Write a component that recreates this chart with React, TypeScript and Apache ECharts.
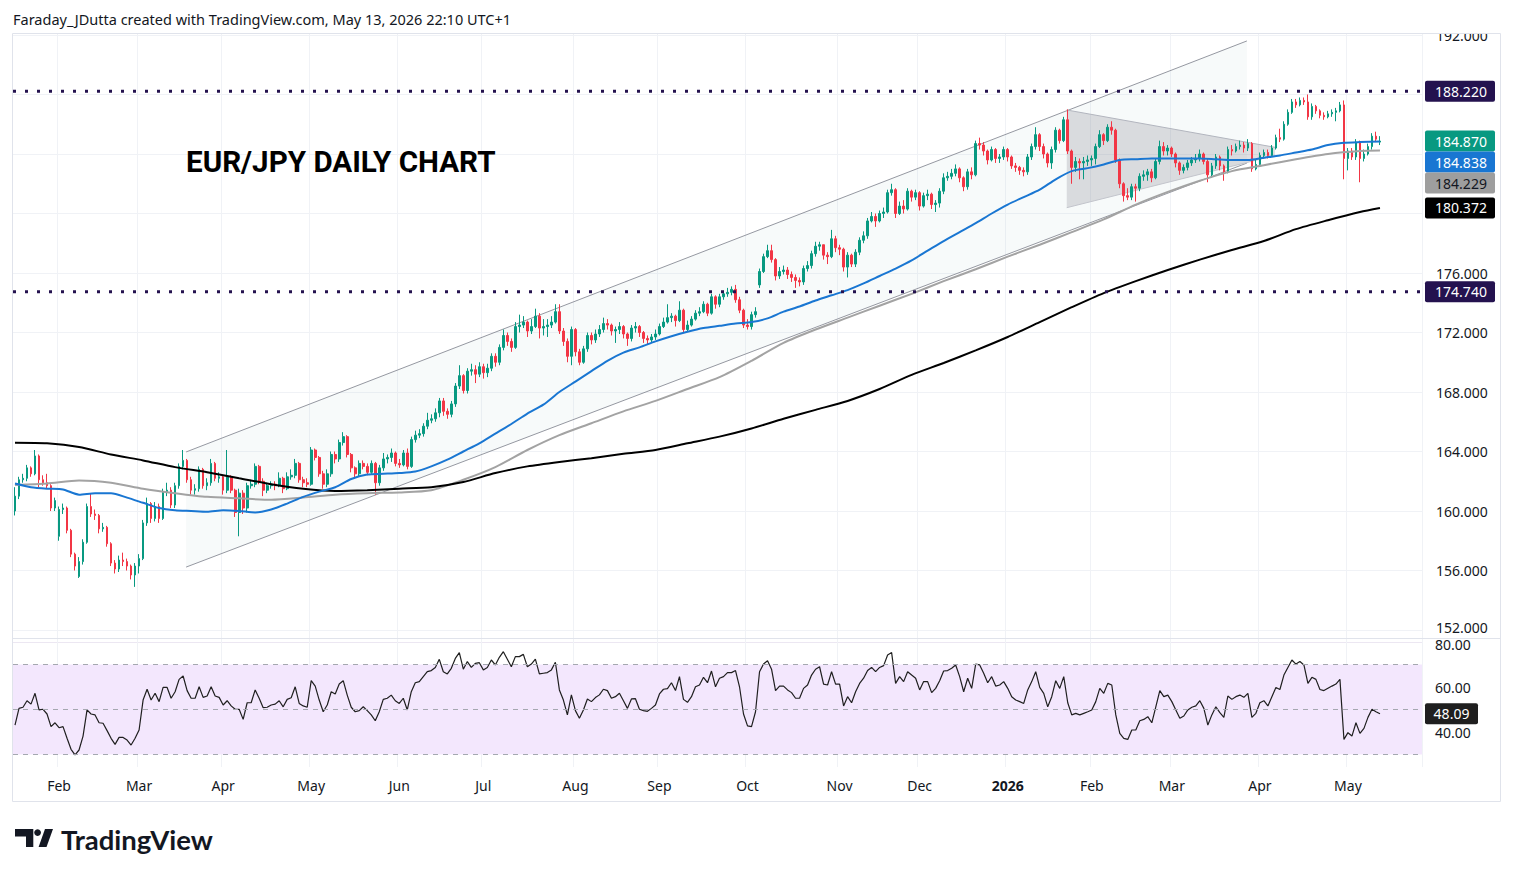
import React, { useEffect, useRef } from "react";
import * as echarts from "echarts";

// ---------- data ----------
const START_DATE = "2025-01-17";
const HOLIDAYS = ["2025-12-25", "2026-01-01"];
const RIGHT_PAD = 10;
const MONTHS = ["Jan", "Feb", "Mar", "Apr", "May", "Jun", "Jul", "Aug", "Sep", "Oct", "Nov", "Dec"];

// daily candles: [open, close, low, high]
const ohlc: number[][] = [
  [160.0,161.0,159.7,161.6],[161.0,162.1,160.8,162.3],[162.1,162.2,161.9,162.5],[162.2,162.9,162.0,163.1],[162.9,162.5,162.3,163.0],
  [162.5,163.7,162.4,164.1],[163.7,162.1,161.6,163.8],[162.1,161.9,161.7,162.4],[161.9,161.7,161.5,162.5],[161.7,160.2,160.0,161.8],
  [160.2,160.7,160.0,160.9],[158.3,160.1,158.0,160.3],[160.1,160.2,159.8,160.5],[160.2,158.7,158.5,160.3],[158.7,157.1,156.9,158.8],
  [157.1,156.3,156.0,157.2],[155.6,156.6,155.5,156.9],[156.6,157.9,156.4,158.1],[157.9,160.3,157.8,160.5],[160.3,159.8,159.6,161.2],
  [159.8,159.7,159.4,160.1],[159.7,158.8,158.5,159.8],[158.8,158.9,158.6,159.2],[158.9,157.8,157.6,159.0],[157.8,156.5,156.3,157.9],
  [156.5,156.1,155.8,156.7],[156.1,156.7,155.9,157.0],[156.7,156.6,156.3,157.2],[156.6,156.3,156.0,156.8],[156.3,155.7,155.4,156.4],
  [155.7,156.3,154.9,156.5],[156.3,156.8,155.8,157.1],[156.8,159.2,156.7,159.4],[159.2,160.5,159.0,160.9],[160.5,159.5,159.2,160.6],
  [159.5,160.3,159.3,160.6],[160.3,159.5,159.2,160.5],[159.5,161.3,159.4,161.5],[161.3,161.4,161.0,161.9],[161.4,160.4,160.2,161.6],
  [160.4,161.7,160.2,161.9],[161.7,163.0,161.5,163.2],[163.0,163.4,162.8,164.1],[163.4,162.1,161.9,163.5],[162.1,161.4,161.1,162.3],
  [161.4,161.5,161.1,161.8],[161.5,162.8,161.3,163.0],[162.8,161.7,161.5,162.9],[161.7,161.9,161.4,162.2],[161.9,163.2,161.7,163.5],
  [163.2,162.2,162.0,163.3],[162.2,162.3,161.9,162.6],[162.3,161.4,161.1,162.4],[161.4,162.3,161.2,164.1],[162.3,161.4,161.2,162.4],
  [161.4,159.9,159.6,161.5],[159.9,161.2,158.3,161.5],[161.2,160.2,159.8,161.4],[160.2,161.7,159.9,161.9],[161.7,161.8,161.5,162.1],
  [161.8,163.0,161.6,163.2],[163.0,162.0,161.8,163.1],[162.0,161.4,161.0,162.2],[161.4,161.7,161.2,161.9],[161.7,161.8,161.5,162.0],
  [161.8,161.7,161.4,162.0],[161.7,162.2,161.6,162.6],[162.2,161.5,161.2,162.3],[161.5,162.3,161.4,162.6],[162.3,162.4,162.1,162.8],
  [162.4,163.2,162.2,163.5],[163.2,162.1,161.9,163.3],[162.1,161.9,161.6,162.3],[161.9,161.8,161.6,162.2],[161.8,164.1,161.7,164.3],
  [164.1,163.6,163.4,164.2],[163.6,162.5,162.3,163.7],[162.5,161.8,161.5,162.7],[161.8,162.5,161.6,162.8],[162.5,163.8,162.3,164.0],
  [163.8,163.5,163.2,164.0],[163.5,164.6,163.3,164.8],[164.6,165.0,164.4,165.3],[165.0,163.8,163.6,165.1],[163.8,162.9,162.6,163.9],
  [162.9,162.5,162.2,163.0],[162.5,163.2,162.3,163.4],[163.2,163.0,162.8,163.4],[163.0,162.6,162.4,163.2],[162.6,163.2,162.5,163.4],
  [163.2,161.9,161.1,163.3],[161.9,162.9,161.7,163.1],[162.9,163.5,162.7,163.9],[163.5,163.6,163.2,163.8],[163.6,163.9,163.3,164.2],
  [163.9,163.2,163.0,164.0],[163.2,163.1,162.9,163.5],[163.1,163.9,163.0,164.1],[163.9,163.0,162.8,164.2],[163.0,164.8,162.9,165.0],
  [164.8,165.1,164.6,165.4],[165.1,165.2,164.9,165.5],[165.2,165.7,165.0,165.9],[165.7,166.1,165.5,166.6],[166.1,166.2,165.9,166.5],
  [166.2,166.6,166.0,166.9],[166.6,167.4,166.3,167.6],[167.4,166.7,166.4,167.6],[166.7,166.5,166.2,166.9],[166.5,167.2,166.3,167.4],
  [167.2,168.4,167.0,168.6],[168.4,169.1,168.2,169.8],[169.1,168.1,167.9,169.2],[168.1,169.4,167.9,169.6],[169.4,169.5,169.1,169.9],
  [169.5,169.2,168.6,169.8],[169.2,169.7,169.0,170.0],[169.7,169.3,168.9,169.9],[169.3,169.6,169.0,169.9],[169.6,170.4,169.4,170.6],
  [170.4,170.0,169.7,170.6],[170.0,171.0,169.8,171.2],[171.0,171.8,170.8,172.2],[171.8,171.4,171.1,172.0],[171.4,171.0,170.7,171.6],
  [171.0,172.4,170.9,172.7],[172.4,172.5,172.0,173.2],[172.5,172.7,172.3,173.1],[172.7,172.1,171.7,172.8],[172.1,172.4,171.9,172.9],
  [172.4,173.1,172.3,173.6],[173.1,172.3,171.6,173.3],[172.3,172.4,171.8,172.9],[172.4,172.5,171.7,172.9],[172.5,172.7,172.3,173.1],
  [172.7,173.4,172.6,173.9],[173.4,172.1,171.9,173.9],[172.1,171.4,171.1,172.3],[171.4,170.4,170.0,171.6],[170.4,172.2,169.8,172.4],
  [172.2,170.7,170.4,172.3],[170.7,170.0,169.8,170.9],[170.0,170.9,169.9,171.1],[170.9,171.8,170.7,172.0],[171.8,171.5,171.2,172.0],
  [171.5,171.9,171.3,172.2],[171.9,172.2,171.7,172.5],[172.2,172.6,172.0,173.0],[172.6,172.5,172.2,172.9],[172.5,172.1,171.8,172.6],
  [172.1,172.2,171.3,172.4],[172.2,172.4,171.9,172.7],[172.4,171.9,171.6,172.5],[171.9,171.6,171.1,172.0],[171.6,172.3,171.4,172.5],
  [172.3,172.4,172.0,172.7],[172.4,172.0,171.7,172.5],[172.0,171.6,171.3,172.1],[171.6,171.5,171.2,171.8],[171.5,171.7,171.3,171.9],
  [171.7,171.9,171.5,172.2],[171.9,172.4,171.8,172.6],[172.4,172.7,172.3,173.0],[172.7,173.0,172.6,173.9],[173.0,173.1,172.7,173.3],
  [173.1,172.8,172.4,173.2],[172.8,173.5,172.7,174.1],[173.5,172.2,172.0,173.6],[172.2,172.5,172.1,172.8],[172.5,172.9,172.4,173.1],
  [172.9,173.3,172.8,173.5],[173.3,173.4,173.1,173.7],[173.4,173.9,173.3,174.1],[173.9,173.3,173.1,174.0],[173.3,174.4,173.2,174.6],
  [174.4,173.9,173.6,174.5],[173.9,174.4,173.7,174.6],[174.4,174.6,174.2,174.8],[174.6,174.7,174.4,175.0],[174.7,174.9,174.5,175.1],
  [174.9,174.2,174.0,175.2],[174.2,173.5,173.3,174.4],[173.5,172.5,172.3,173.6],[172.5,172.4,172.2,172.9],[172.4,173.2,172.2,173.4],
  [173.2,173.4,173.0,173.7],[175.2,176.1,175.0,176.3],[176.1,177.1,176.0,177.3],[177.1,177.5,177.0,177.9],[177.5,176.9,176.7,177.9],
  [176.9,175.8,175.5,177.0],[175.8,176.1,175.6,176.4],[176.1,176.2,175.9,176.5],[176.2,175.9,175.6,176.4],[175.9,175.7,175.4,176.1],
  [175.7,175.5,175.0,175.9],[175.5,175.4,175.1,175.7],[175.4,176.3,175.2,176.5],[176.3,176.5,176.1,176.8],[176.5,177.3,176.3,177.5],
  [177.3,177.8,177.1,178.1],[177.8,177.9,177.5,178.1],[177.9,177.2,176.9,177.9],[177.2,177.1,176.6,177.4],[177.1,178.3,177.0,178.9],
  [178.3,177.7,177.4,178.5],[177.7,177.6,177.2,177.9],[177.6,176.4,176.1,177.7],[176.4,177.2,175.7,177.4],[177.2,176.6,176.4,177.3],
  [176.6,177.4,176.4,177.6],[177.4,178.2,177.2,178.4],[178.2,178.5,178.0,178.8],[178.5,179.5,178.3,179.7],[179.5,179.8,179.4,180.1],
  [179.8,179.5,179.1,180.0],[179.5,180.0,179.4,180.2],[180.0,180.1,179.7,180.4],[180.1,181.4,180.0,181.6],[181.4,181.6,181.2,182.0],
  [181.6,180.0,179.7,181.7],[180.0,180.5,179.9,180.8],[180.5,180.3,180.0,180.9],[180.3,181.5,180.2,181.7],[181.5,181.1,180.8,181.6],
  [181.1,181.4,180.9,181.6],[181.4,180.5,180.2,181.5],[180.5,181.2,180.4,181.4],[181.2,181.3,180.9,181.6],[181.3,180.6,180.3,181.4],
  [180.6,180.7,180.1,180.9],[180.7,181.5,180.4,181.7],[181.5,182.4,181.3,182.7],[182.4,182.5,182.2,182.8],[182.5,182.7,182.3,183.0],
  [182.7,183.0,182.5,183.3],[183.0,182.4,182.1,183.1],[182.4,181.8,181.5,182.5],[181.8,182.8,181.6,183.0],[182.8,182.6,182.3,183.1],
  [182.6,184.7,182.5,184.9],[184.7,184.6,184.3,185.1],[184.6,184.2,183.9,184.8],[184.2,183.6,183.3,184.3],[183.6,184.3,183.5,184.5],
  [184.3,183.7,183.4,184.4],[183.7,183.8,183.4,184.0],[183.8,184.3,183.6,184.5],[184.3,183.8,183.5,184.4],[183.8,183.2,183.0,183.9],
  [183.2,183.1,182.8,183.4],[183.1,182.9,182.6,183.2],[182.9,182.8,182.5,183.1],[182.8,183.8,182.6,184.0],[183.8,184.5,183.6,184.7],
  [184.5,185.3,184.3,185.8],[185.3,184.5,184.2,185.4],[184.5,184.0,183.7,184.7],[184.0,183.4,183.1,184.1],[183.4,184.3,183.0,184.5],
  [184.3,185.6,184.1,185.8],[185.6,184.9,184.7,185.7],[184.9,186.3,184.8,186.5],[186.3,184.2,184.0,187.0],[184.2,183.1,182.0,184.3],
  [183.1,183.5,182.8,183.8],[183.5,183.4,182.3,183.7],[183.4,183.5,182.3,183.8],[183.5,183.6,183.2,183.9],[183.6,183.7,183.2,183.9],
  [183.7,184.5,183.3,184.7],[184.5,185.3,184.4,185.6],[185.3,184.9,184.6,185.4],[184.9,185.8,184.8,186.0],[185.8,185.6,185.3,186.2],
  [185.6,183.6,183.4,185.7],[183.6,182.0,181.7,183.7],[182.0,181.2,180.8,182.1],[181.2,181.1,180.9,181.7],[181.1,181.8,180.9,182.0],
  [181.8,181.7,180.8,182.0],[181.7,182.5,181.5,182.7],[182.5,182.6,182.2,182.9],[182.6,182.8,182.2,183.0],[182.8,182.4,182.1,183.0],
  [182.4,183.5,182.3,183.7],[183.5,184.5,183.3,184.9],[184.5,184.2,183.9,184.8],[184.2,184.4,183.9,184.6],[184.4,184.0,183.8,184.5],
  [184.0,183.4,183.1,184.1],[183.4,182.9,182.6,183.5],[182.9,183.1,182.7,183.3],[183.1,183.4,182.9,183.6],[183.4,183.6,183.2,183.8],
  [183.6,183.7,183.4,184.0],[183.7,184.0,183.5,184.3],[184.0,183.5,183.3,184.1],[183.5,182.6,182.1,183.7],[182.6,183.2,182.4,183.4],
  [183.2,183.8,183.0,184.0],[183.8,183.2,182.9,183.9],[183.2,182.8,182.2,183.3],[182.8,184.3,182.7,184.5],[184.3,184.2,183.9,184.6],
  [184.2,184.5,184.1,184.7],[184.5,184.6,184.3,184.9],[184.6,184.4,184.1,184.8],[184.4,184.7,184.2,185.0],[184.7,183.0,182.8,184.8],
  [183.0,183.3,182.9,183.6],[183.3,183.9,183.2,184.1],[183.9,184.1,183.7,184.3],[184.1,183.9,183.7,184.3],[183.9,184.4,183.8,184.6],
  [184.4,185.1,184.3,185.3],[185.1,185.0,184.8,185.7],[185.0,186.0,184.9,186.2],[186.0,186.8,185.9,187.0],[186.8,187.5,186.7,187.7],
  [187.5,187.3,187.1,187.7],[187.3,187.6,187.2,187.8],[187.6,187.5,187.3,187.8],[187.5,186.5,186.3,188.0],[186.5,187.2,186.3,187.4],
  [187.2,186.9,186.7,187.3],[186.9,186.6,186.4,187.0],[186.6,186.5,186.3,186.8],[186.5,186.7,186.4,186.9],[186.7,186.8,186.5,187.0],
  [186.8,186.9,186.2,187.1],[186.9,187.3,186.8,187.5],[187.3,183.7,182.3,187.6],[183.7,184.2,182.9,184.4],[184.2,183.8,183.6,184.4],
  [183.8,184.8,183.6,185.0],[184.8,183.7,182.1,184.9],[183.7,184.0,183.5,184.3],[184.0,184.5,183.9,184.7],[184.5,185.2,184.3,185.4],
  [185.2,185.0,184.8,185.5],[184.8,184.87,184.6,185.2],
];

// RSI(14), one value per candle
const rsi14: number[] = [
  43.1,50.5,51,53.9,52.4,57.2,49.8,50.1,48,42.4,
  44.1,41.9,42.4,37.2,32.3,29.8,32,38.2,49.8,48,
  47.6,44.1,43.9,40.6,37.2,34.5,37.6,37.6,36.4,34.2,
  37.2,40.9,54.2,59,54.2,57.2,53.5,59.8,59.8,55,
  57.9,63.4,64.9,58.4,55,55,60.1,55.4,56,60.1,
  56,55.4,52,53.9,51.6,50.1,50.1,45.6,53,53,
  58.7,55,50.8,51,52,52.4,53.9,51.2,54.5,55.2,
  60.1,52.7,51.6,51,62.8,60.4,54.2,49,52,57.9,
  56.9,61.3,62.8,56.4,51,49,49.5,51.2,49.5,47.6,
  45,49,54.5,55,56.4,53.9,52.7,55,49.8,57.9,
  61.9,62.4,64.6,66.8,67.3,68.7,72.3,66.8,65.8,68.3,
  72.7,75.3,67.9,71.3,68.7,70.5,70.8,67.6,68.7,72,
  69.8,73.2,75.7,72.3,69,73.5,73.5,74.5,69,70.2,
  72.4,65.8,66.1,66.4,67.6,71,58.7,54.2,47.6,56.5,
  49.5,46.1,49.8,54.7,53.5,55.3,56.5,59,58.4,55,
  55.7,57.2,53.9,50.5,54.7,54.8,50.1,49.5,49.2,50.5,
  52,56.9,59,59.3,61.9,58.4,64.6,54.5,53.2,55.7,
  60.1,60.9,64.3,61.9,67.1,60.1,63.9,64.6,66.4,66.4,
  67.3,60.1,48,42.7,42.4,49,66.8,70.2,71.7,67.9,
  58.4,60.4,60.4,58.7,57.5,55,55,59.4,60.9,65.3,
  67.9,69,61.3,60.9,66.8,61.3,61.3,51.6,55.7,53,
  57.9,61.6,63.9,67.3,68.7,66.8,68.7,69.5,74.2,75.3,
  61.6,64.6,62.4,66.8,65.3,63.9,58.7,62.4,62.4,57.5,
  59.4,62.8,67.1,67.3,68.3,69.8,64.6,57.9,63.9,59.4,
  70.2,69.8,66.1,61.9,64.6,60.4,60.9,62.4,59.4,55.7,
  54.2,53.5,52.7,58.7,62.4,66.8,59.8,57.2,51.2,55.7,
  62.8,59.4,64.6,53,47.6,48.3,47.6,48.3,49,49.8,
  53.5,59.4,57.2,61.6,60.9,47.6,39.4,37.2,36.7,40.9,
  40.9,45,45.6,46.8,44.1,51.2,58.4,55.7,56.4,53.5,
  49.8,46.1,47.1,49.8,51,51.6,53.9,50.5,43.1,47.6,
  51.2,48.6,46.5,56,54.5,55.7,56.4,55.4,57.2,46.5,
  48.3,53,53.9,51.6,55.7,59.8,58.9,65.3,68.7,72,
  70.2,71.3,69.8,61.6,64.3,63.4,58.9,58.4,59.4,60.4,
  61.3,63.4,36.7,39.7,38.2,44.1,39.4,41.6,46.5,50.1,
  49,48.09,
];

// moving averages (every 4th / 8th candle) + final value
const EMA50_STEP = 4;
const ema50: number[] = [
  161.85,161.6,161.5,161.45,161.1,161.2,161.2,160.9,160.55,160.2,
  160.05,160.0,159.95,160.05,160.0,159.9,160.1,160.5,160.95,161.3,
  161.6,162.15,162.45,162.5,162.55,162.65,163.0,163.45,164.0,164.55,
  165.2,165.85,166.55,167.15,168.0,168.7,169.4,170.1,170.65,171.0,
  171.4,171.75,172.05,172.3,172.45,172.6,172.7,172.95,173.4,173.75,
  174.15,174.5,174.85,175.3,175.8,176.3,176.85,177.5,178.15,178.75,
  179.35,180.0,180.6,181.1,181.6,182.3,182.85,183.05,183.3,183.6,
  183.65,183.7,183.7,183.7,183.7,183.65,183.6,183.6,183.75,183.9,
  184.1,184.3,184.6,184.75,184.8,
];
const ema50Last = 184.838;
const MA_STEP = 8;
const ema100: number[] = [
  161.75,161.85,162.05,161.9,161.5,161.2,160.95,160.85,160.75,160.9,
  161.1,161.2,161.25,161.4,162.1,162.95,164.1,165.1,165.9,166.7,
  167.4,168.2,169.0,170.1,171.3,172.2,173.0,173.8,174.6,175.45,
  176.25,177.1,177.9,178.75,179.6,180.6,181.45,182.2,182.85,183.25,
  183.65,184.0,184.2,
];
const ema100Last = 184.229;
const sma200: number[] = [
  164.59,164.55,164.3,163.8,163.4,162.95,162.6,162.2,161.8,161.5,
  161.35,161.4,161.5,161.6,161.95,162.55,163.0,163.3,163.55,163.85,
  164.1,164.55,165.0,165.55,166.2,166.8,167.4,168.2,169.15,169.95,
  170.8,171.7,172.7,173.7,174.65,175.45,176.2,176.9,177.55,178.15,
  178.95,179.55,180.1,
];
const sma200Last = 180.372;

// drawings: [candle index, price]
const levels = [188.22, 174.74];
const channelUpper = [[42.75, 163.97], [307.75, 191.6]];
const channelLower = [[42.75, 156.23], [307.75, 183.39]];
const triangleUpper = [[262.75, 186.96], [314.75, 184.45]];
const triangleLower = [[262.75, 180.39], [314.75, 183.9]];

const priceTicks = [152, 156, 160, 164, 168, 172, 176, 180, 184, 188, 192];
const priceLabelTicks = [152, 156, 160, 164, 168, 172, 176, 192];
const rsiTicks = [40, 60, 80];
const rsiGuides = [30, 50, 70];

// ---------- styles ----------
const FONT = "'Noto Sans', 'DejaVu Sans', sans-serif";
const TEXT = "#131722";
const UP = "#089981";
const DOWN = "#f23645";
const BLUE = "#1976d2";
const GREY = "#a3a3a3";
const LEVEL = "#24124f";
const GRIDC = "#f0f2f6";
const BORDER = "#e0e3eb";

// pane geometry
const PLOT_L = 13;
const PLOT_W = 1409;
const PRICE_TOP = 34;
const PRICE_H = 604;
const RSI_TOP = 638;
const RSI_H = 129;
// price scale: 192 at y=35, 14.875 px per unit
const PX_PER_UNIT = 14.875;
const P_MAX = 192 + (35 - PRICE_TOP) / PX_PER_UNIT;
const P_MIN = 192 - (PRICE_TOP + PRICE_H - 35) / PX_PER_UNIT;
// rsi scale: 80 at y=642, 2.25 px per unit
const R_MAX = 80 + (642 - RSI_TOP) / 2.25;
const R_MIN = 80 - (RSI_TOP + RSI_H - 642) / 2.25;

function buildDates(n: number): string[] {
  const out: string[] = [];
  const d = new Date(START_DATE + "T00:00:00Z");
  while (out.length < n) {
    const wd = d.getUTCDay();
    const s = d.toISOString().slice(0, 10);
    if (wd !== 0 && wd !== 6 && HOLIDAYS.indexOf(s) < 0) out.push(s);
    d.setUTCDate(d.getUTCDate() + 1);
  }
  return out;
}

function buildOption() {
  const N = ohlc.length + RIGHT_PAD;
  const dates = buildDates(N);
  const isStart = dates.map((d, i) => i > 0 && d.slice(0, 7) !== dates[i - 1].slice(0, 7));
  const lastIdx = ohlc.length - 1;
  const sampled = (arr: number[], step: number, last: number) =>
    arr.map((v, k) => [k * step, v]).concat([[lastIdx, last]]);

  const monthFmt = (val: string) => {
    const m = parseInt(val.slice(5, 7), 10) - 1;
    if (m === 0) return "{b|" + val.slice(0, 4) + "}";
    return MONTHS[m];
  };

  const catAxisBase = {
    type: "category",
    data: dates,
    boundaryGap: true,
    axisLine: { show: false },
    axisTick: { show: false },
    splitLine: { show: true, interval: (i: number) => isStart[i], lineStyle: { color: GRIDC, width: 1 } },
  };

  const lineSeries = (data: number[][], color: string, width: number) => ({
    type: "line",
    xAxisIndex: 1,
    yAxisIndex: 0,
    data,
    showSymbol: false,
    symbol: "none",
    smooth: 0.25,
    silent: true,
    lineStyle: { color, width },
    z: 4,
  });

  const twoPointShape = (pts: number[][]) => ({
    type: "custom",
    xAxisIndex: 1,
    yAxisIndex: 0,
    silent: true,
    data: [[pts[0][0], pts[0][1]]],
  });

  return {
    animation: false,
    backgroundColor: "#ffffff",
    grid: [
      { left: PLOT_L, top: PRICE_TOP, width: PLOT_W, height: PRICE_H },
      { left: PLOT_L, top: RSI_TOP, width: PLOT_W, height: RSI_H },
    ],
    xAxis: [
      { ...catAxisBase, gridIndex: 0, axisLabel: { show: false } },
      { type: "value", gridIndex: 0, min: -0.5, max: N - 0.5, show: false },
      {
        ...catAxisBase,
        gridIndex: 1,
        axisLabel: {
          show: true,
          interval: (i: number) => isStart[i],
          formatter: monthFmt,
          color: TEXT,
          fontFamily: FONT,
          fontSize: 14,
          margin: 11,
          rich: { b: { fontWeight: "bold", color: TEXT, fontFamily: FONT, fontSize: 14 } },
        },
      },
    ],
    yAxis: [
      {
        type: "value",
        gridIndex: 0,
        position: "right",
        min: P_MIN,
        max: P_MAX,
        axisLine: { show: false },
        axisTick: { show: false, customValues: priceTicks },
        splitLine: { show: true, lineStyle: { color: GRIDC, width: 1 } },
        axisLabel: {
          customValues: priceLabelTicks,
          formatter: (v: number) => (v === priceLabelTicks[0] ? "{lo|" + v.toFixed(3) + "}" : v.toFixed(3)),
          color: TEXT,
          fontFamily: FONT,
          fontSize: 14,
          align: "left",
          margin: 14,
          rich: { lo: { color: TEXT, fontFamily: FONT, fontSize: 14, padding: [0, 0, 5, 0] } },
        },
      },
      {
        type: "value",
        gridIndex: 1,
        position: "right",
        min: R_MIN,
        max: R_MAX,
        axisLine: { show: false },
        axisTick: { show: false, customValues: rsiTicks },
        splitLine: { show: true, lineStyle: { color: "#ece7f2", width: 1 } },
        axisLabel: {
          customValues: rsiTicks,
          formatter: (v: number) => (v === 80 ? "{hi|" + v.toFixed(2) + "}" : v.toFixed(2)),
          color: TEXT,
          fontFamily: FONT,
          fontSize: 14,
          align: "left",
          margin: 13,
          rich: { hi: { color: TEXT, fontFamily: FONT, fontSize: 14, padding: [5, 0, 0, 0] } },
        },
      },
    ],
    series: [
      {
        ...twoPointShape(channelUpper),
        z: 1,
        renderItem: (_p: any, api: any) => {
          const u0 = api.coord(channelUpper[0]);
          const u1 = api.coord(channelUpper[1]);
          const l0 = api.coord(channelLower[0]);
          const l1 = api.coord(channelLower[1]);
          return {
            type: "group",
            children: [
              { type: "polygon", shape: { points: [u0, u1, l1, l0] }, style: { fill: "rgba(190,210,210,0.12)" } },
              { type: "line", shape: { x1: u0[0], y1: u0[1], x2: u1[0], y2: u1[1] }, style: { stroke: "#9598a1", lineWidth: 1 } },
              { type: "line", shape: { x1: l0[0], y1: l0[1], x2: l1[0], y2: l1[1] }, style: { stroke: "#9598a1", lineWidth: 1 } },
            ],
          };
        },
      },
      {
        ...twoPointShape(triangleUpper),
        z: 2,
        renderItem: (_p: any, api: any) => {
          const u0 = api.coord(triangleUpper[0]);
          const u1 = api.coord(triangleUpper[1]);
          const l0 = api.coord(triangleLower[0]);
          const l1 = api.coord(triangleLower[1]);
          return {
            type: "group",
            children: [
              { type: "polygon", shape: { points: [u0, u1, l1, l0] }, style: { fill: "rgba(120,123,134,0.24)" } },
              { type: "line", shape: { x1: u0[0], y1: u0[1], x2: u1[0], y2: u1[1] }, style: { stroke: "#b2b5be", lineWidth: 1 } },
              { type: "line", shape: { x1: l0[0], y1: l0[1], x2: l1[0], y2: l1[1] }, style: { stroke: "#c3c5cc", lineWidth: 1 } },
            ],
          };
        },
      },
      {
        type: "candlestick",
        xAxisIndex: 0,
        yAxisIndex: 0,
        data: ohlc,
        barWidth: 2.2,
        silent: true,
        itemStyle: { color: UP, color0: DOWN, borderColor: UP, borderColor0: DOWN, borderWidth: 1 },
        z: 3,
      },
      lineSeries(sampled(ema100, MA_STEP, ema100Last), GREY, 2),
      lineSeries(sampled(sma200, MA_STEP, sma200Last), "#000000", 2),
      lineSeries(sampled(ema50, EMA50_STEP, ema50Last), BLUE, 2),
      ...levels.map((v) => ({
        type: "line",
        xAxisIndex: 1,
        yAxisIndex: 0,
        data: [[-0.5, v], [N - 0.5, v]],
        symbol: "none",
        silent: true,
        lineStyle: { color: LEVEL, width: 3, type: [3, 9] },
        z: 5,
      })),
      {
        type: "line",
        xAxisIndex: 2,
        yAxisIndex: 1,
        data: rsi14,
        symbol: "none",
        showSymbol: false,
        silent: true,
        lineStyle: { color: "#1f1f1f", width: 1.2 },
        z: 3,
        markArea: {
          silent: true,
          itemStyle: { color: "#f3e7fd" },
          data: [[{ yAxis: rsiGuides[0] }, { yAxis: rsiGuides[2] }]],
        },
        markLine: {
          silent: true,
          symbol: "none",
          label: { show: false },
          lineStyle: { color: "#a5a8b0", width: 1, type: [5, 5] },
          data: rsiGuides.map((v) => ({ yAxis: v })),
        },
      },
    ],
  };
}

function buildGraphics(chart: any) {
  const g: any[] = [];
  const lastClose = ohlc[ohlc.length - 1][1];
  const labels = [
    { v: levels[0], bg: LEVEL, fg: "#ffffff" },
    { v: lastClose, bg: UP, fg: "#ffffff" },
    { v: ema50Last, bg: BLUE, fg: "#ffffff" },
    { v: ema100Last, bg: "#9e9e9e", fg: TEXT },
    { v: sma200Last, bg: "#000000", fg: "#ffffff" },
    { v: levels[1], bg: LEVEL, fg: "#ffffff" },
  ]
    .map((l) => ({ ...l, y: chart.convertToPixel({ yAxisIndex: 0 }, l.v) as number }))
    .sort((a, b) => a.y - b.y);
  const BOX_H = 21;
  let prev = -1e9;
  labels.forEach((l) => {
    const y = Math.max(l.y, prev + BOX_H);
    prev = y;
    g.push({ type: "rect", z: 100, shape: { x: 1425, y: y - BOX_H / 2, width: 70, height: BOX_H, r: 2 }, style: { fill: l.bg } });
    g.push({
      type: "text", z: 101, x: 1461, y,
      style: { text: l.v.toFixed(3), fill: l.fg, fontFamily: FONT, fontSize: 14, align: "center", verticalAlign: "middle" },
    });
  });

  const rsiLast = rsi14[rsi14.length - 1];
  const ry = chart.convertToPixel({ yAxisIndex: 1 }, rsiLast) as number;
  g.push({ type: "rect", z: 100, shape: { x: 1425, y: ry - 10.5, width: 53, height: 21, r: 2 }, style: { fill: "#1f1f1f" } });
  g.push({
    type: "text", z: 101, x: 1451.5, y: ry,
    style: { text: rsiLast.toFixed(2), fill: "#ffffff", fontFamily: FONT, fontSize: 14, align: "center", verticalAlign: "middle" },
  });

  // clip cut labels at pane edges
  g.push({ type: "rect", z: 90, shape: { x: 1423, y: 18, width: 77, height: 15.5 }, style: { fill: "#ffffff" } });
  g.push({ type: "rect", z: 90, shape: { x: 1423, y: 634.5, width: 77, height: 4 }, style: { fill: "#ffffff" } });

  // frame
  g.push({ type: "rect", z: 95, shape: { x: 12.5, y: 33.5, width: 1488, height: 768 }, style: { fill: "none", stroke: BORDER, lineWidth: 1 } });
  g.push({ type: "line", z: 95, shape: { x1: 12.5, y1: 638.5, x2: 1500.5, y2: 638.5 }, style: { stroke: BORDER, lineWidth: 1 } });

  // texts
  g.push({
    type: "text", z: 100, x: 13, y: 19,
    style: { text: "Faraday_JDutta created with TradingView.com, May 13, 2026 22:10 UTC+1", fill: TEXT, fontFamily: FONT, fontSize: 14.5, verticalAlign: "middle" },
  });
  g.push({
    type: "text", z: 100, x: 186, y: 162,
    style: { text: "EUR/JPY DAILY CHART", fill: "#000000", fontFamily: "Roboto, sans-serif", fontWeight: "bold", fontSize: 29.6, verticalAlign: "middle" },
  });

  // TradingView logo
  g.push({ type: "polygon", z: 100, shape: { points: [[15, 829], [33.3, 829], [33.3, 847], [26, 847], [26, 836.5], [15, 836.5]] }, style: { fill: TEXT } });
  g.push({ type: "circle", z: 100, shape: { cx: 37.6, cy: 832.6, r: 3.4 }, style: { fill: TEXT } });
  g.push({ type: "polygon", z: 100, shape: { points: [[45, 829], [53, 829], [46.5, 847], [38.6, 847]] }, style: { fill: TEXT } });
  g.push({
    type: "text", z: 100, x: 61, y: 839,
    style: { text: "TradingView", fill: TEXT, fontFamily: "Lato, sans-serif", fontWeight: "bold", fontSize: 27.5, verticalAlign: "middle" },
  });
  return g;
}

export default function App() {
  const ref = useRef<HTMLDivElement>(null);
  useEffect(() => {
    document.body.style.margin = "0";
    const chart = echarts.init(ref.current as HTMLDivElement, null, { renderer: "svg", width: 1514, height: 877 });
    chart.setOption(buildOption() as any);
    chart.setOption({ graphic: buildGraphics(chart) } as any);
    return () => chart.dispose();
  }, []);
  return <div ref={ref} style={{ width: 1514, height: 877, background: "#ffffff" }} />;
}
